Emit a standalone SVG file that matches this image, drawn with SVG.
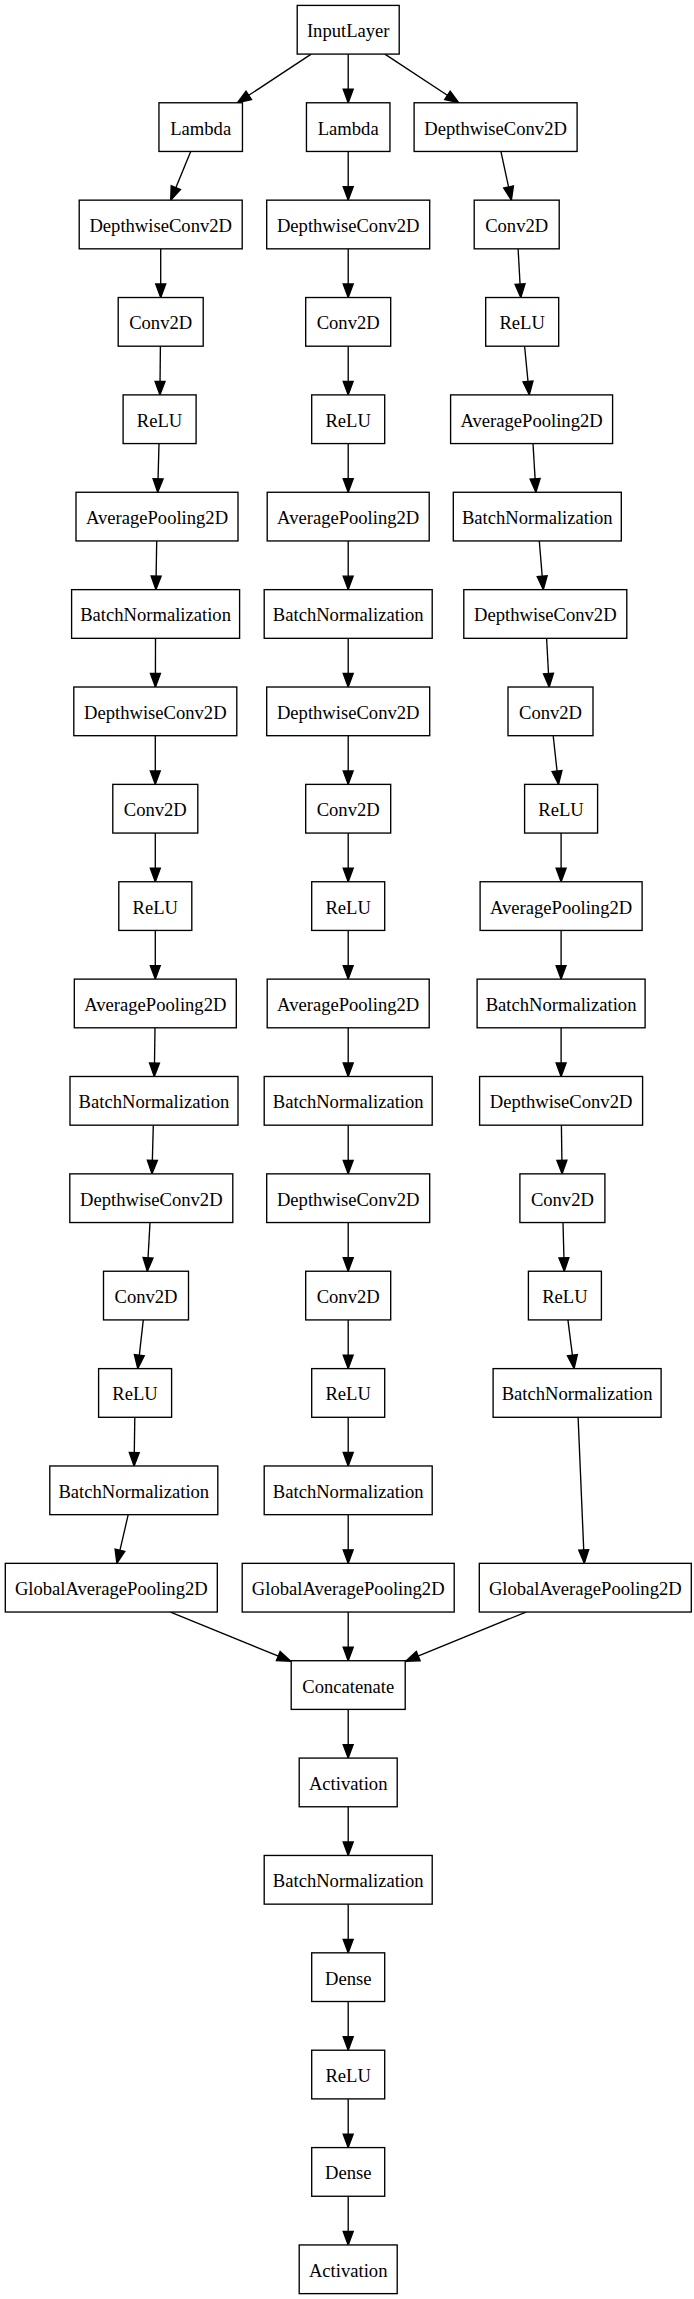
<svg xmlns="http://www.w3.org/2000/svg" width="694" height="2299" viewBox="0 0 694 2299">
<style>
.n rect{fill:#fff;stroke:#000;stroke-width:1.35}
.n text{font-family:"Liberation Serif","Times New Roman",serif;font-size:18.6px;text-anchor:middle;fill:#000}
#edges line{stroke:#000;stroke-width:1.35;marker-end:url(#arr)}
</style>
<defs>
<marker id="arr" markerUnits="userSpaceOnUse" markerWidth="16" markerHeight="12" refX="13.5" refY="5" orient="auto" overflow="visible">
<path d="M0,0 L13.5,5 L0,10 Z" fill="#000" stroke="#000" stroke-width="1.35"/>
</marker>
</defs>
<rect width="694" height="2299" fill="#fff"/>
<g id="edges">
<line x1="311.2" y1="54.09" x2="237.5" y2="102.78"/>
<line x1="348.2" y1="54.09" x2="348.2" y2="102.78"/>
<line x1="384.9" y1="54.09" x2="458.7" y2="102.78"/>
<!-- col1 -->
<line x1="190.7" y1="151.46" x2="170.7" y2="200.15"/>
<line x1="160.7" y1="248.83" x2="160.7" y2="297.52"/>
<line x1="160.4" y1="346.2" x2="159.9" y2="394.89"/>
<line x1="159.0" y1="443.57" x2="157.7" y2="492.27"/>
<line x1="156.7" y1="540.95" x2="155.9" y2="589.64"/>
<line x1="155.5" y1="638.32" x2="155.4" y2="687.01"/>
<line x1="155.3" y1="735.69" x2="155.3" y2="784.38"/>
<line x1="155.3" y1="833.06" x2="155.3" y2="881.75"/>
<line x1="155.3" y1="930.43" x2="155.3" y2="979.12"/>
<line x1="155.0" y1="1027.8" x2="154.3" y2="1076.49"/>
<line x1="153.3" y1="1125.17" x2="152.0" y2="1173.86"/>
<line x1="150.0" y1="1222.54" x2="147.3" y2="1271.24"/>
<line x1="143.3" y1="1319.92" x2="137.8" y2="1368.61"/>
<line x1="134.8" y1="1417.29" x2="134.1" y2="1465.98"/>
<line x1="128.2" y1="1514.66" x2="116.9" y2="1563.35"/>
<line x1="170.5" y1="1612.03" x2="290.8" y2="1661.2"/>
<!-- col2 -->
<line x1="348.2" y1="151.46" x2="348.2" y2="200.15"/>
<line x1="348.2" y1="248.83" x2="348.2" y2="297.52"/>
<line x1="348.2" y1="346.2" x2="348.2" y2="394.89"/>
<line x1="348.2" y1="443.57" x2="348.2" y2="492.27"/>
<line x1="348.2" y1="540.95" x2="348.2" y2="589.64"/>
<line x1="348.2" y1="638.32" x2="348.2" y2="687.01"/>
<line x1="348.2" y1="735.69" x2="348.2" y2="784.38"/>
<line x1="348.2" y1="833.06" x2="348.2" y2="881.75"/>
<line x1="348.2" y1="930.43" x2="348.2" y2="979.12"/>
<line x1="348.2" y1="1027.8" x2="348.2" y2="1076.49"/>
<line x1="348.2" y1="1125.17" x2="348.2" y2="1173.86"/>
<line x1="348.2" y1="1222.54" x2="348.2" y2="1271.24"/>
<line x1="348.2" y1="1319.92" x2="348.2" y2="1368.61"/>
<line x1="348.2" y1="1417.29" x2="348.2" y2="1465.98"/>
<line x1="348.2" y1="1514.66" x2="348.2" y2="1563.35"/>
<line x1="348.2" y1="1612.03" x2="348.2" y2="1660.72"/>
<line x1="348.2" y1="1709.4" x2="348.2" y2="1758.09"/>
<line x1="348.2" y1="1806.77" x2="348.2" y2="1855.46"/>
<line x1="348.2" y1="1904.14" x2="348.2" y2="1952.83"/>
<line x1="348.2" y1="2001.51" x2="348.2" y2="2050.21"/>
<line x1="348.2" y1="2098.89" x2="348.2" y2="2147.58"/>
<line x1="348.2" y1="2196.26" x2="348.2" y2="2244.95"/>
<!-- col3 -->
<line x1="500.9" y1="151.46" x2="511.4" y2="200.15"/>
<line x1="518.1" y1="248.83" x2="520.8" y2="297.52"/>
<line x1="524.6" y1="346.2" x2="529.3" y2="394.89"/>
<line x1="533.0" y1="443.57" x2="535.9" y2="492.27"/>
<line x1="539.3" y1="540.95" x2="543.3" y2="589.64"/>
<line x1="546.6" y1="638.32" x2="549.2" y2="687.01"/>
<line x1="553.2" y1="735.69" x2="558.5" y2="784.38"/>
<line x1="561.1" y1="833.06" x2="561.1" y2="881.75"/>
<line x1="561.1" y1="930.43" x2="561.1" y2="979.12"/>
<line x1="561.1" y1="1027.8" x2="561.1" y2="1076.49"/>
<line x1="561.4" y1="1125.17" x2="562.1" y2="1173.86"/>
<line x1="563.0" y1="1222.54" x2="564.3" y2="1271.24"/>
<line x1="567.9" y1="1319.92" x2="574.1" y2="1368.61"/>
<line x1="578.1" y1="1417.29" x2="584.3" y2="1563.35"/>
<line x1="526.0" y1="1612.03" x2="405.7" y2="1661.2"/>
</g>
<g id="input" class="n"><rect x="297.2" y="5.41" width="102" height="48.68"/><text x="348.2" y="37.25">InputLayer</text></g>
<g id="c1r1" class="n"><rect x="158.95" y="102.78" width="83.5" height="48.68"/><text x="200.7" y="134.62">Lambda</text></g>
<g id="c2r1" class="n"><rect x="306.45" y="102.78" width="83.5" height="48.68"/><text x="348.2" y="134.62">Lambda</text></g>
<g id="c3r1" class="n"><rect x="414.1" y="102.78" width="163" height="48.68"/><text x="495.6" y="134.62">DepthwiseConv2D</text></g>
<g id="c1r2" class="n"><rect x="79.2" y="200.15" width="163" height="48.68"/><text x="160.7" y="231.99">DepthwiseConv2D</text></g>
<g id="c2r2" class="n"><rect x="266.7" y="200.15" width="163" height="48.68"/><text x="348.2" y="231.99">DepthwiseConv2D</text></g>
<g id="c3r2" class="n"><rect x="474.2" y="200.15" width="85" height="48.68"/><text x="516.7" y="231.99">Conv2D</text></g>
<g id="c1r3" class="n"><rect x="118.2" y="297.52" width="85" height="48.68"/><text x="160.7" y="329.36">Conv2D</text></g>
<g id="c2r3" class="n"><rect x="305.7" y="297.52" width="85" height="48.68"/><text x="348.2" y="329.36">Conv2D</text></g>
<g id="c3r3" class="n"><rect x="485.7" y="297.52" width="73" height="48.68"/><text x="522.2" y="329.36">ReLU</text></g>
<g id="c1r4" class="n"><rect x="123.1" y="394.89" width="73" height="48.68"/><text x="159.6" y="426.73">ReLU</text></g>
<g id="c2r4" class="n"><rect x="311.7" y="394.89" width="73" height="48.68"/><text x="348.2" y="426.73">ReLU</text></g>
<g id="c3r4" class="n"><rect x="450.6" y="394.89" width="162" height="48.68"/><text x="531.6" y="426.73">AveragePooling2D</text></g>
<g id="c1r5" class="n"><rect x="76" y="492.27" width="162" height="48.68"/><text x="157" y="524.11">AveragePooling2D</text></g>
<g id="c2r5" class="n"><rect x="267.2" y="492.27" width="162" height="48.68"/><text x="348.2" y="524.11">AveragePooling2D</text></g>
<g id="c3r5" class="n"><rect x="453.3" y="492.27" width="168" height="48.68"/><text x="537.3" y="524.11">BatchNormalization</text></g>
<g id="c1r6" class="n"><rect x="71.6" y="589.64" width="168" height="48.68"/><text x="155.6" y="621.48">BatchNormalization</text></g>
<g id="c2r6" class="n"><rect x="264.2" y="589.64" width="168" height="48.68"/><text x="348.2" y="621.48">BatchNormalization</text></g>
<g id="c3r6" class="n"><rect x="463.8" y="589.64" width="163" height="48.68"/><text x="545.3" y="621.48">DepthwiseConv2D</text></g>
<g id="c1r7" class="n"><rect x="73.8" y="687.01" width="163" height="48.68"/><text x="155.3" y="718.85">DepthwiseConv2D</text></g>
<g id="c2r7" class="n"><rect x="266.7" y="687.01" width="163" height="48.68"/><text x="348.2" y="718.85">DepthwiseConv2D</text></g>
<g id="c3r7" class="n"><rect x="508" y="687.01" width="85" height="48.68"/><text x="550.5" y="718.85">Conv2D</text></g>
<g id="c1r8" class="n"><rect x="112.8" y="784.38" width="85" height="48.68"/><text x="155.3" y="816.22">Conv2D</text></g>
<g id="c2r8" class="n"><rect x="305.7" y="784.38" width="85" height="48.68"/><text x="348.2" y="816.22">Conv2D</text></g>
<g id="c3r8" class="n"><rect x="524.6" y="784.38" width="73" height="48.68"/><text x="561.1" y="816.22">ReLU</text></g>
<g id="c1r9" class="n"><rect x="118.8" y="881.75" width="73" height="48.68"/><text x="155.3" y="913.59">ReLU</text></g>
<g id="c2r9" class="n"><rect x="311.7" y="881.75" width="73" height="48.68"/><text x="348.2" y="913.59">ReLU</text></g>
<g id="c3r9" class="n"><rect x="480.1" y="881.75" width="162" height="48.68"/><text x="561.1" y="913.59">AveragePooling2D</text></g>
<g id="c1r10" class="n"><rect x="74.3" y="979.12" width="162" height="48.68"/><text x="155.3" y="1010.96">AveragePooling2D</text></g>
<g id="c2r10" class="n"><rect x="267.2" y="979.12" width="162" height="48.68"/><text x="348.2" y="1010.96">AveragePooling2D</text></g>
<g id="c3r10" class="n"><rect x="477.1" y="979.12" width="168" height="48.68"/><text x="561.1" y="1010.96">BatchNormalization</text></g>
<g id="c1r11" class="n"><rect x="70" y="1076.49" width="168" height="48.68"/><text x="154" y="1108.33">BatchNormalization</text></g>
<g id="c2r11" class="n"><rect x="264.2" y="1076.49" width="168" height="48.68"/><text x="348.2" y="1108.33">BatchNormalization</text></g>
<g id="c3r11" class="n"><rect x="479.6" y="1076.49" width="163" height="48.68"/><text x="561.1" y="1108.33">DepthwiseConv2D</text></g>
<g id="c1r12" class="n"><rect x="69.8" y="1173.86" width="163" height="48.68"/><text x="151.3" y="1205.7">DepthwiseConv2D</text></g>
<g id="c2r12" class="n"><rect x="266.7" y="1173.86" width="163" height="48.68"/><text x="348.2" y="1205.7">DepthwiseConv2D</text></g>
<g id="c3r12" class="n"><rect x="519.9" y="1173.86" width="85" height="48.68"/><text x="562.4" y="1205.7">Conv2D</text></g>
<g id="c1r13" class="n"><rect x="103.5" y="1271.24" width="85" height="48.68"/><text x="146" y="1303.08">Conv2D</text></g>
<g id="c2r13" class="n"><rect x="305.7" y="1271.24" width="85" height="48.68"/><text x="348.2" y="1303.08">Conv2D</text></g>
<g id="c3r13" class="n"><rect x="528.4" y="1271.24" width="73" height="48.68"/><text x="564.9" y="1303.08">ReLU</text></g>
<g id="c1r14" class="n"><rect x="98.6" y="1368.61" width="73" height="48.68"/><text x="135.1" y="1400.45">ReLU</text></g>
<g id="c2r14" class="n"><rect x="311.7" y="1368.61" width="73" height="48.68"/><text x="348.2" y="1400.45">ReLU</text></g>
<g id="c3r14" class="n"><rect x="493.1" y="1368.61" width="168" height="48.68"/><text x="577.1" y="1400.45">BatchNormalization</text></g>
<g id="c1r15" class="n"><rect x="49.8" y="1465.98" width="168" height="48.68"/><text x="133.8" y="1497.82">BatchNormalization</text></g>
<g id="c2r15" class="n"><rect x="264.2" y="1465.98" width="168" height="48.68"/><text x="348.2" y="1497.82">BatchNormalization</text></g>
<g id="c1r16" class="n"><rect x="5.3" y="1563.35" width="212" height="48.68"/><text x="111.3" y="1595.19">GlobalAveragePooling2D</text></g>
<g id="c2r16" class="n"><rect x="242.2" y="1563.35" width="212" height="48.68"/><text x="348.2" y="1595.19">GlobalAveragePooling2D</text></g>
<g id="c3r16" class="n"><rect x="479.3" y="1563.35" width="212" height="48.68"/><text x="585.3" y="1595.19">GlobalAveragePooling2D</text></g>
<g id="concat" class="n"><rect x="291.2" y="1660.72" width="114" height="48.68"/><text x="348.2" y="1692.56">Concatenate</text></g>
<g id="act1" class="n"><rect x="299.2" y="1758.09" width="98" height="48.68"/><text x="348.2" y="1789.93">Activation</text></g>
<g id="bn" class="n"><rect x="264.2" y="1855.46" width="168" height="48.68"/><text x="348.2" y="1887.3">BatchNormalization</text></g>
<g id="dense1" class="n"><rect x="311.7" y="1952.83" width="73" height="48.68"/><text x="348.2" y="1984.67">Dense</text></g>
<g id="relu" class="n"><rect x="311.7" y="2050.21" width="73" height="48.68"/><text x="348.2" y="2082.05">ReLU</text></g>
<g id="dense2" class="n"><rect x="311.7" y="2147.58" width="73" height="48.68"/><text x="348.2" y="2179.42">Dense</text></g>
<g id="act2" class="n"><rect x="299.2" y="2244.95" width="98" height="48.68"/><text x="348.2" y="2276.79">Activation</text></g>
</svg>
